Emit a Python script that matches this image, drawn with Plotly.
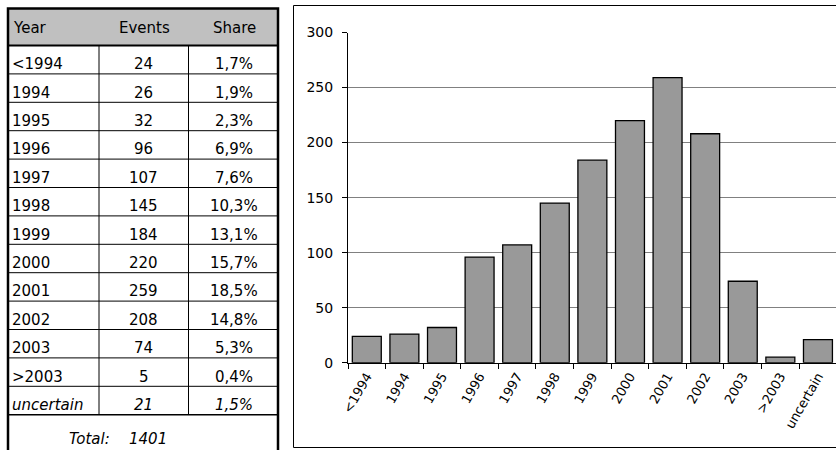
import plotly.graph_objects as go

W, H = 836, 450

years = ["<1994", "1994", "1995", "1996", "1997", "1998", "1999",
         "2000", "2001", "2002", "2003", ">2003", "uncertain"]
events = [24, 26, 32, 96, 107, 145, 184, 220, 259, 208, 74, 5, 21]
shares = ["1,7%", "1,9%", "2,3%", "6,9%", "7,6%", "10,3%", "13,1%",
          "15,7%", "18,5%", "14,8%", "5,3%", "0,4%", "1,5%"]
headers = ["Year", "Events", "Share"]
total_label = "Total:"
total_value = 1401

FONT = "DejaVu Sans"
TFONT = dict(family=FONT, size=15, color="black")

def px_x(v):
    return v / W

def px_y(v):
    return 1 - v / H

# table geometry (pixels)
T_LEFT, T_RIGHT, T_TOP = 8, 278, 8.5
HEAD_BOTTOM = 45.5
ROW_H = 28.4
COL_X = [8, 99, 188.5, 278]
n_rows = len(years)
rows_bottom = HEAD_BOTTOM + ROW_H * n_rows

fig = go.Figure()

fig.add_trace(go.Bar(
    x=years, y=events,
    marker=dict(color="#999999", line=dict(color="black", width=1.3)),
    xaxis="x", yaxis="y", showlegend=False, hoverinfo="skip",
))

shapes = []
annotations = []

# header band
shapes.append(dict(type="rect", xref="paper", yref="paper",
                   x0=px_x(T_LEFT), x1=px_x(T_RIGHT), y0=px_y(HEAD_BOTTOM), y1=px_y(T_TOP),
                   line=dict(width=0), fillcolor="#c0c0c0", layer="below"))
# row lines
for i in range(1, n_rows + 1):
    yy = HEAD_BOTTOM + ROW_H * i
    shapes.append(dict(type="line", xref="paper", yref="paper",
                       x0=px_x(T_LEFT), x1=px_x(T_RIGHT), y0=px_y(yy), y1=px_y(yy),
                       line=dict(color="black", width=1 if i < n_rows else 1.5)))
# column dividers
for cx in COL_X[1:-1]:
    shapes.append(dict(type="line", xref="paper", yref="paper",
                       x0=px_x(cx), x1=px_x(cx), y0=px_y(rows_bottom), y1=px_y(HEAD_BOTTOM),
                       line=dict(color="black", width=1)))
# header bottom line
shapes.append(dict(type="line", xref="paper", yref="paper",
                   x0=px_x(T_LEFT), x1=px_x(T_RIGHT), y0=px_y(HEAD_BOTTOM), y1=px_y(HEAD_BOTTOM),
                   line=dict(color="black", width=2)))
# table outer border
shapes.append(dict(type="rect", xref="paper", yref="paper",
                   x0=px_x(T_LEFT), x1=px_x(T_RIGHT), y0=px_y(470), y1=px_y(T_TOP),
                   line=dict(color="black", width=2.5), fillcolor="rgba(0,0,0,0)"))
# chart panel border
shapes.append(dict(type="rect", xref="paper", yref="paper",
                   x0=px_x(293.5), x1=px_x(900), y0=px_y(447.5), y1=px_y(5.5),
                   line=dict(color="black", width=1), fillcolor="rgba(0,0,0,0)", layer="below"))

# header texts
head_y = (T_TOP + HEAD_BOTTOM) / 2 + 0.5
annotations.append(dict(text=headers[0], x=px_x(11), xanchor="left"))
annotations.append(dict(text=headers[1], x=px_x((COL_X[1] + COL_X[2]) / 2 + 1), xanchor="center"))
annotations.append(dict(text=headers[2], x=px_x((COL_X[2] + COL_X[3]) / 2 + 1), xanchor="center"))
for a in annotations:
    a.update(y=px_y(head_y), yanchor="middle")

# body texts
for i, (yr, ev, sh) in enumerate(zip(years, events, shares)):
    cy = HEAD_BOTTOM + ROW_H * i + ROW_H / 2 + 4.5
    it = (yr == "uncertain")
    wrap = (lambda s: f"<i>{s}</i>") if it else (lambda s: str(s))
    annotations.append(dict(text=wrap(yr), x=px_x(10), xanchor="left",
                            y=px_y(cy), yanchor="middle"))
    annotations.append(dict(text=wrap(ev), x=px_x((COL_X[1] + COL_X[2]) / 2), xanchor="center",
                            y=px_y(cy), yanchor="middle"))
    annotations.append(dict(text=wrap(sh), x=px_x((COL_X[2] + COL_X[3]) / 2 + 1), xanchor="center",
                            y=px_y(cy), yanchor="middle"))

# total row
annotations.append(dict(text=f"<i>{total_label}</i>", x=px_x(67), xanchor="left",
                        y=px_y(439), yanchor="middle"))
annotations.append(dict(text=f"<i>{total_value}</i>", x=px_x(127), xanchor="left",
                        y=px_y(439), yanchor="middle"))

for a in annotations:
    a.update(xref="paper", yref="paper", showarrow=False, font=TFONT)

fig.update_layout(
    template="none",
    width=W, height=H,
    autosize=False,
    margin=dict(l=0, r=0, t=0, b=0, pad=0, autoexpand=False),
    paper_bgcolor="white", plot_bgcolor="white",
    bargap=0.23,
    showlegend=False,
    shapes=shapes,
    annotations=annotations,
    xaxis=dict(
        domain=[px_x(348), 1.0],
        type="category",
        range=[-0.5, 12.48],
        automargin=False,
        showline=True, linecolor="black", linewidth=1,
        ticks="outside", ticklen=5, tickcolor="black", tickwidth=1,
        tickson="boundaries",
        tickangle=-60,
        tickfont=dict(family=FONT, size=13, color="black"),
        showgrid=False, zeroline=False,
        anchor="y",
    ),
    yaxis=dict(
        domain=[px_y(362.7), px_y(32.5)],
        range=[0, 300], dtick=50, tick0=0,
        automargin=False,
        showline=True, linecolor="black", linewidth=1,
        ticks="outside", ticklen=5, tickcolor="black", tickwidth=1,
        ticklabelstandoff=6,
        tickfont=dict(family=FONT, size=14, color="black"),
        showgrid=True, gridcolor="#808080", gridwidth=1,
        zeroline=False,
        anchor="x",
    ),
)

fig.write_html("out.html",
               config={"displayModeBar": False, "responsive": False},
               post_script="document.body.style.margin='0';document.body.style.overflow='hidden';")
